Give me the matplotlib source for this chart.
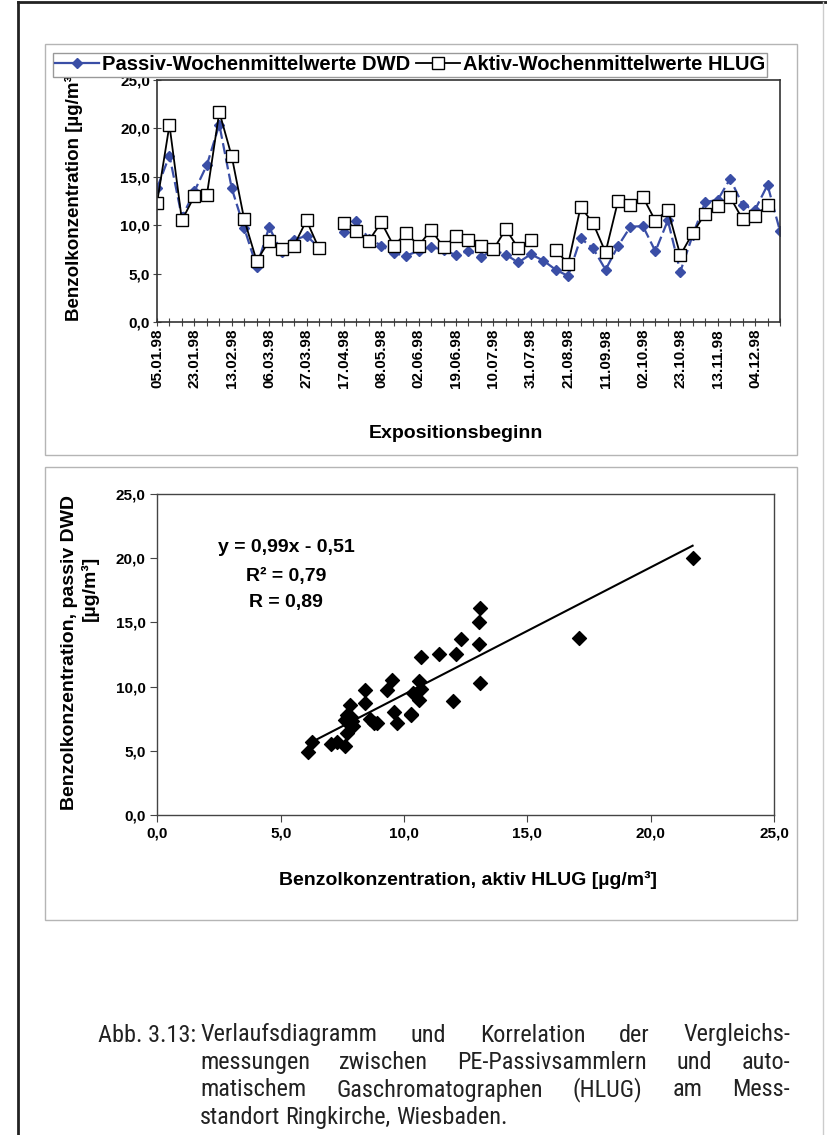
import numpy as np
import matplotlib
matplotlib.use('Agg')
import matplotlib.pyplot as plt
from matplotlib import font_manager as fm
from matplotlib.patches import Rectangle
from matplotlib.lines import Line2D

plt.rcParams['font.family'] = ['Liberation Sans', 'DejaVu Sans']

# Expositionsbeginn (Kategorien), nur jede 3. beschriftet
dates = ['05.01.98', '09.01.98', '16.01.98', '23.01.98', '30.01.98', '06.02.98', '13.02.98',
         '20.02.98', '27.02.98', '06.03.98', '13.03.98', '20.03.98', '27.03.98', '03.04.98',
         '09.04.98', '17.04.98', '24.04.98', '30.04.98', '08.05.98', '15.05.98', '22.05.98',
         '02.06.98', '05.06.98', '12.06.98', '19.06.98', '26.06.98', '03.07.98', '10.07.98',
         '17.07.98', '24.07.98', '31.07.98', '07.08.98', '14.08.98', '21.08.98', '28.08.98',
         '04.09.98', '11.09.98', '18.09.98', '25.09.98', '02.10.98', '09.10.98', '16.10.98',
         '23.10.98', '30.10.98', '06.11.98', '13.11.98', '20.11.98', '27.11.98', '04.12.98',
         '11.12.98', '18.12.98']

nan = np.nan
passiv = [13.8, 17.2, 10.8, 13.5, 16.2, 20.4, 13.8, 9.7, 5.7, 9.8, 7.2, 8.5, 8.9, 7.7, nan,
          9.3, 10.4, 8.6, 7.9, 7.1, 6.85, 7.35, 7.75, 7.45, 6.9, 7.35, 6.7, 7.45, 6.95, 6.15,
          7.0, 6.35, 5.4, 4.75, 8.65, 7.6, 5.4, 7.85, 9.85, 9.9, 7.3, 10.5, 5.2, 9.0, 12.4,
          12.6, 14.8, 12.1, 11.6, 14.15, 9.4]
aktiv = [12.3, 20.35, 10.5, 13.0, 13.1, 21.7, 17.1, 10.6, 6.3, 8.4, 7.5, 7.9, 10.5, 7.6, nan,
         10.25, 9.4, 8.4, 10.3, 7.85, 9.2, 7.9, 9.5, 7.75, 8.85, 8.5, 7.85, 7.5, 9.6, 7.6,
         8.5, nan, 7.45, 6.0, 11.9, 10.2, 7.2, 12.5, 12.1, 12.9, 10.45, 11.6, 6.9, 9.2, 11.2,
         12.0, 12.9, 10.6, 10.9, 12.1, nan]

# Korrelation aktiv (x) gegen passiv (y)
sc_aktiv = [6.10, 6.25, 7.05, 7.30, 7.60, 7.70, 7.60, 7.70, 7.80, 7.90, 7.95, 7.80, 7.85, 7.75,
            8.40, 8.40, 8.60, 8.80, 8.90, 9.30, 9.50, 9.60, 9.70, 10.30, 10.30, 10.35, 10.60,
            10.70, 10.60, 10.70, 11.40, 12.10, 12.00, 12.30, 13.10, 13.05, 13.05, 13.10,
            17.10, 21.70]
sc_passiv = [4.9, 5.7, 5.55, 5.7, 5.4, 6.4, 7.4, 7.8, 7.55, 7.3, 6.9, 8.55, 7.65, 7.6,
             9.7, 8.75, 7.5, 7.2, 7.2, 9.7, 10.55, 8.0, 7.15, 7.9, 7.75, 9.5, 10.4,
             9.8, 8.95, 12.3, 12.55, 12.55, 8.9, 13.7, 16.15, 15.0, 13.35, 10.25,
             13.8, 20.0]
slope, intercept = 0.99, -0.51
yticks = [0, 5, 10, 15, 20, 25]

BLUE = '#3a4ea6'
W, H = 828, 1135
fig = plt.figure(figsize=(W / 100, H / 100), dpi=100)


def fx(px):
    return px / W


def fy(py):
    return 1 - py / H


def comma(v):
    return f'{v:.1f}'.replace('.', ',')


def has_font(name):
    try:
        fm.findfont(fm.FontProperties(family=name), fallback_to_default=False)
        return True
    except Exception:
        return False


# Seitenrahmen und Diagrammrahmen
fig.add_artist(Line2D([fx(18), fx(18)], [0, fy(2)], color='#222', lw=2))
fig.add_artist(Line2D([fx(18), 1], [fy(2), fy(2)], color='#222', lw=2))
fig.add_artist(Line2D([fx(823), fx(823)], [0, fy(2)], color='#ccc', lw=1))
fig.add_artist(Rectangle((fx(45), fy(455)), fx(797) - fx(45), fy(44) - fy(455), fill=False,
                         ec='#b5b5b5', lw=1, transform=fig.transFigure))
fig.add_artist(Rectangle((fx(45), fy(920)), fx(797) - fx(45), fy(467) - fy(920), fill=False,
                         ec='#b5b5b5', lw=1, transform=fig.transFigure))

# Verlaufsdiagramm
ax1 = fig.add_axes([fx(157), fy(322), fx(780) - fx(157), fy(80) - fy(322)])
x = np.arange(len(dates))
ax1.plot(x, passiv, color=BLUE, ls=(0, (5, 2)), lw=1.6, marker='D', ms=4.8, mfc=BLUE, mec=BLUE)
ax1.plot(x, aktiv, color='black', lw=1.3, marker='s', ms=8.5, mfc='white', mec='black', mew=1)
ax1.set_xlim(0, len(dates) - 1)
ax1.set_ylim(0, 25)
ax1.set_yticks(yticks)
ax1.set_yticklabels([comma(v) for v in yticks], fontsize=11, fontweight='bold')
ax1.set_xticks(x)
ax1.set_xticklabels([d if i % 3 == 0 else '' for i, d in enumerate(dates)], rotation=90,
                    fontsize=11, fontweight='bold')
ax1.tick_params(axis='both', direction='inout', length=6, width=0.8, color='#444', pad=2)
for s in ax1.spines.values():
    s.set_color('#333')
    s.set_linewidth(1.2)
fig.text(fx(74), fy(195), 'Benzolkonzentration [µg/m³]', rotation=90, ha='center', va='center',
         fontsize=13.5, fontweight='bold')
fig.text(fx(456), fy(433), 'Expositionsbeginn', ha='center', va='center', fontsize=14,
         fontweight='bold')
handles = [Line2D([], [], color=BLUE, lw=1.6, marker='D', ms=4.8),
           Line2D([], [], color='black', lw=1.3, marker='s', ms=8, mfc='white')]
fig.legend(handles, ['Passiv-Wochenmittelwerte DWD', 'Aktiv-Wochenmittelwerte HLUG'],
           loc='center', bbox_to_anchor=(fx(410), fy(65)), ncol=2, fancybox=False,
           edgecolor='#999', framealpha=1, borderpad=0.12, handlelength=2.2,
           handletextpad=0.12, columnspacing=0.3, borderaxespad=0,
           prop={'weight': 'bold', 'size': 14.5})

# Korrelation
ax2 = fig.add_axes([fx(157.4), fy(815), fx(774) - fx(157.4), fy(494) - fy(815)])
ax2.scatter(sc_aktiv, sc_passiv, marker='D', s=50, color='black', zorder=3)
xl = np.array([min(sc_aktiv), max(sc_aktiv)])
ax2.plot(xl, slope * xl + intercept, color='black', lw=1.5)
ax2.set_xlim(0, 25)
ax2.set_ylim(0, 25)
ax2.set_xticks(yticks)
ax2.set_yticks(yticks)
ax2.set_xticklabels([comma(v) for v in yticks], fontsize=11, fontweight='bold')
ax2.set_yticklabels([comma(v) for v in yticks], fontsize=11, fontweight='bold')
ax2.tick_params(axis='both', direction='out', length=5, width=0.8, color='#444')
for s in ax2.spines.values():
    s.set_color('#444')
    s.set_linewidth(1.0)
fig.text(fx(468), fy(880), 'Benzolkonzentration, aktiv HLUG [µg/m³]', ha='center', va='center',
         fontsize=14, fontweight='bold')
fig.text(fx(70), fy(652), 'Benzolkonzentration, passiv DWD', rotation=90, ha='center',
         va='center', fontsize=14, fontweight='bold')
fig.text(fx(90), fy(588), '[µg/m³]', rotation=90, ha='center', va='center', fontsize=14,
         fontweight='bold')
for txt, yy in [('y = 0,99x - 0,51', 548), ('R² = 0,79', 576), ('R = 0,89', 602)]:
    fig.text(fx(286), fy(yy), txt, ha='center', va='center', fontsize=14, fontweight='bold')

# Bildunterschrift, Blocksatz
narrow = [f for f in ['Liberation Sans Narrow', 'Arial Narrow', 'Roboto Condensed',
                      'Nimbus Sans Narrow'] if has_font(f)]
if narrow:
    CAPF, FS = narrow[0], 17.5
else:
    CAPF, FS = 'Liberation Sans', 15.5
renderer = fig.canvas.get_renderer()


def justify(words, y, x0, x1, last=False):
    objs = [fig.text(0, fy(y), w, fontsize=FS, family=CAPF, va='center', color='#222')
            for w in words]
    widths = [o.get_window_extent(renderer).width for o in objs]
    if last or len(words) == 1:
        gap = FS * 0.3
    else:
        gap = (x1 - x0 - sum(widths)) / (len(words) - 1)
    pos = x0
    for o, w in zip(objs, widths):
        o.set_x(fx(pos))
        pos += w + gap


fig.text(fx(196), fy(1035), 'Abb. 3.13:', fontsize=FS, family=CAPF, ha='right', va='center',
         color='#222')
lines = ['Verlaufsdiagramm und Korrelation der Vergleichs-',
         'messungen zwischen PE-Passivsammlern und auto-',
         'matischem Gaschromatographen (HLUG) am Mess-',
         'standort Ringkirche, Wiesbaden.']
for k, ln in enumerate(lines):
    justify(ln.split(), 1035 + 27.5 * k, 200, 790, last=(k == len(lines) - 1))

fig.savefig('out.png', dpi=100)
